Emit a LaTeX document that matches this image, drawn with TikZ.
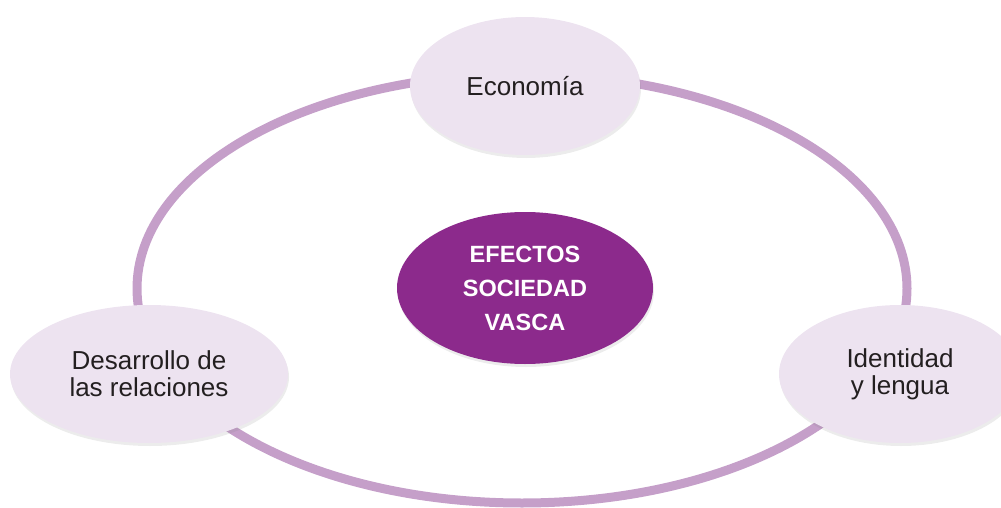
\documentclass[tikz,border=0pt]{standalone}
\usepackage{fontspec}
\setmainfont{Liberation Sans}
\usetikzlibrary{shapes.geometric,shadows}
\definecolor{ringlila}{HTML}{C59FC9}
\definecolor{palelila}{HTML}{EDE3F0}
\definecolor{deeplila}{HTML}{8C2A8C}
\definecolor{inktext}{HTML}{231F20}

\begin{document}
\begin{tikzpicture}[x=1pt, y=-1pt,
  topic/.style={ellipse, fill=palelila, text=inktext, inner sep=0pt, align=center,
    font=\fontsize{26}{27}\selectfont,
    drop shadow={opacity=.15, shadow xshift=1pt, shadow yshift=-3pt}},
  core/.style={ellipse, fill=deeplila, text=white, inner sep=0pt, align=center,
    font=\bfseries\fontsize{23.5}{34}\selectfont,
    drop shadow={opacity=.15, shadow xshift=1pt, shadow yshift=-3pt}}]
\useasboundingbox (0,0) rectangle (1001,508);
\clip (0,0) rectangle (1001,508);

% ring
\draw[ringlila, line width=9pt] (522,288.5) ellipse [x radius=385, y radius=214.5];

\node[core, minimum width=256, minimum height=152] (efectos) at (525,288) {EFECTOS\\SOCIEDAD\\VASCA};

\node[topic, minimum width=230, minimum height=138] (economia) at (525,86) {Economía};
\node[topic, minimum width=278, minimum height=138] (desarrollo) at (149,374) {Desarrollo de\\las relaciones};
\node[topic, minimum width=242, minimum height=138] (identidad) at (900,374) {Identidad\\y lengua};
\end{tikzpicture}
\end{document}
